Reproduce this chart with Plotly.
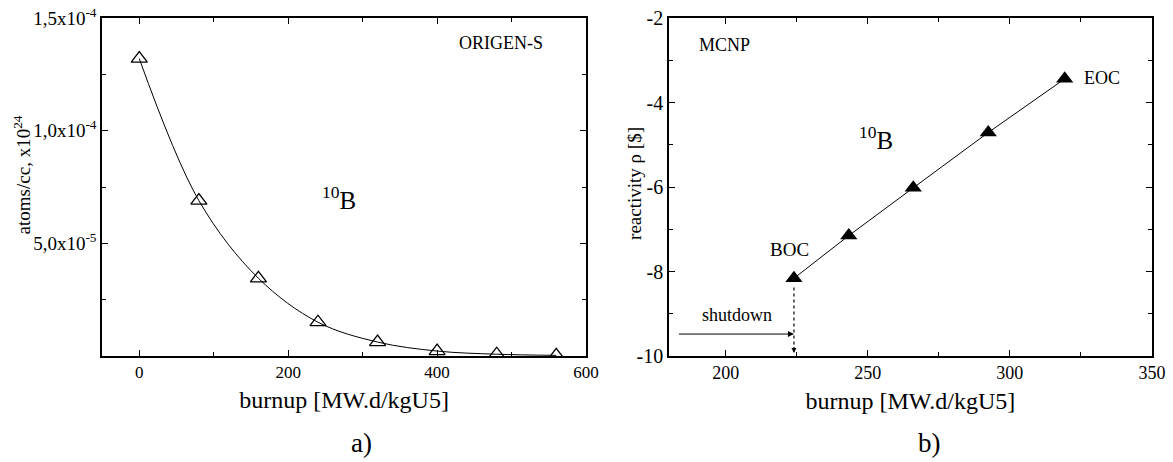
import plotly.graph_objects as go

# ---- panel a): ORIGEN-S 10B number density vs burnup ----
burnup_a = [0, 80, 160, 240, 320, 400, 480, 560]
b10_density = [1.32e-4, 6.9e-5, 3.45e-5, 1.5e-5, 6.2e-6, 2.2e-6, 8e-7, 3e-7]
ytick_vals_a = [5e-5, 1e-4, 1.5e-4]
ytick_text_a = ["5,0x10<sup>-5</sup>", "1,0x10<sup>-4</sup>", "1,5x10<sup>-4</sup>"]
xtick_vals_a = [0, 200, 400, 600]
xtick_text_a = ["0", "200", "400", "600"]

# ---- panel b): MCNP reactivity vs burnup ----
burnup_b = [224, 243.3, 266, 292.4, 319.3]
reactivity = [-8.16, -7.15, -6.02, -4.71, -3.44]
xtick_vals_b = [200, 250, 300, 350]
xtick_text_b = ["200", "250", "300", "350"]
ytick_vals_b = [-10, -8, -6, -4, -2]
ytick_text_b = ["-10", "-8", "-6", "-4", "-2"]

FONT = "Liberation Serif, Times New Roman, serif"
BLACK = "black"


def f(size):
    return dict(family=FONT, size=size, color=BLACK)


fig = go.Figure()

fig.add_trace(go.Scatter(
    x=burnup_a, y=b10_density, mode="lines+markers",
    line=dict(color=BLACK, width=1, shape="spline", smoothing=1.0),
    marker=dict(symbol="triangle-up-open", size=14, color=BLACK,
                line=dict(width=1.3, color=BLACK)),
    xaxis="x", yaxis="y", showlegend=False, hoverinfo="skip"))

fig.add_trace(go.Scatter(
    x=burnup_b, y=reactivity, mode="lines+markers",
    line=dict(color=BLACK, width=1),
    marker=dict(symbol="triangle-up", size=15, color=BLACK),
    xaxis="x2", yaxis="y2", showlegend=False, hoverinfo="skip"))

# dotted drop line from BOC to the burnup axis
boc_x = burnup_b[0]
boc_y = reactivity[0]
fig.add_trace(go.Scatter(
    x=[boc_x, boc_x], y=[boc_y - 0.22, -9.85], mode="lines",
    line=dict(color=BLACK, width=1.2, dash="dot"),
    xaxis="x2", yaxis="y2", showlegend=False, hoverinfo="skip"))

axis_common = dict(
    showline=True, linecolor=BLACK, linewidth=1.5, mirror="ticks",
    ticks="inside", ticklen=6, tickwidth=1.2, tickcolor=BLACK,
    showgrid=False, zeroline=False, automargin=False,
)

fig.update_layout(
    width=1173, height=462,
    margin=dict(l=0, r=0, t=0, b=0),
    paper_bgcolor="white", plot_bgcolor="white",
    font=f(16),
    xaxis=dict(domain=[0.087, 0.4996], range=[-50, 600],
               tickvals=xtick_vals_a, ticktext=xtick_text_a, tickfont=f(17),
               minor=dict(ticks="inside", ticklen=4, dtick=100, tickwidth=1.2, tickcolor=BLACK),
               title=dict(text="burnup [MW.d/kgU5]", font=f(24), standoff=10),
               anchor="y", **axis_common),
    yaxis=dict(domain=[0.2294, 0.961], range=[0, 1.5e-4],
               tickvals=ytick_vals_a, ticktext=ytick_text_a, tickfont=f(19),
               minor=dict(ticks="inside", ticklen=4, dtick=2.5e-5, tickwidth=1.2, tickcolor=BLACK),
               anchor="x", **axis_common),
    xaxis2=dict(domain=[0.5703, 0.982], range=[180, 350],
                tickvals=xtick_vals_b, ticktext=xtick_text_b, tickfont=f(18),
                minor=dict(ticks="inside", ticklen=4, dtick=25, tickwidth=1.2, tickcolor=BLACK),
                title=dict(text="burnup [MW.d/kgU5]", font=f(24), standoff=10),
                anchor="y2", **axis_common),
    yaxis2=dict(domain=[0.2294, 0.961], range=[-10, -2],
                tickvals=ytick_vals_b, ticktext=ytick_text_b, tickfont=f(20),
                minor=dict(ticks="inside", ticklen=4, dtick=1, tickwidth=1.2, tickcolor=BLACK),
                anchor="x2", **axis_common),
)


def note(text, x, y, xref, yref, size, xanchor="center", angle=0):
    fig.add_annotation(text=text, x=x, y=y, xref=xref, yref=yref, showarrow=False,
                       font=f(size), xanchor=xanchor, yanchor="middle", textangle=angle)


# vertical axis titles
note("atoms/cc, x10<sup>24</sup>", 0.019, 0.621, "paper", "paper", 19, angle=-90)
note("reactivity \u03c1 [$]", 0.5413, 0.604, "paper", "paper", 19, angle=-90)

# panel a) labels
note("ORIGEN-S", 486, 1.389e-4, "x", "y", 18)
note("<sup>10</sup>B", 268, 7.0e-5, "x", "y", 25)
note("a)", 0.308, 0.041, "paper", "paper", 27)

# panel b) labels
note("MCNP", 199.7, -2.64, "x2", "y2", 18)
note("<sup>10</sup>B", 253, -4.84, "x2", "y2", 25)
note("BOC", 222.6, -7.47, "x2", "y2", 19)
note("EOC", 325.3, -3.42, "x2", "y2", 18, xanchor="left")
note("shutdown", 203.9, -9.03, "x2", "y2", 18)
note("b)", 0.792, 0.041, "paper", "paper", 27)

# shutdown arrow pointing at BOC burnup
fig.add_annotation(x=boc_x, y=-9.48, ax=183, ay=-9.48, xref="x2", yref="y2",
                   axref="x2", ayref="y2", showarrow=True, text="",
                   arrowhead=2, arrowsize=1.2, arrowwidth=1, arrowcolor=BLACK)
# small arrowhead at the foot of the dotted line
fig.add_annotation(x=boc_x, y=-9.93, ax=boc_x, ay=-9.75, xref="x2", yref="y2",
                   axref="x2", ayref="y2", showarrow=True, text="",
                   arrowhead=2, arrowsize=1.0, arrowwidth=1, arrowcolor=BLACK)

fig.write_html("out.html")
